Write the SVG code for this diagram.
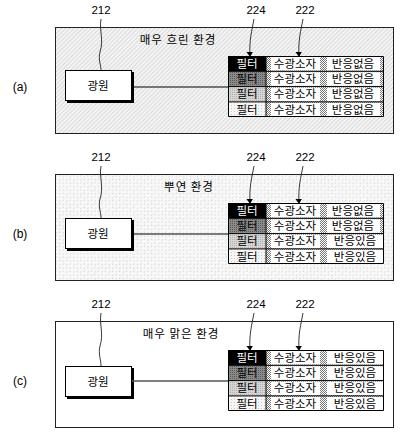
<svg xmlns="http://www.w3.org/2000/svg" width="402" height="436" viewBox="0 0 402 436">
<defs>
<pattern id="fogDense" width="3" height="3" patternUnits="userSpaceOnUse" patternTransform="rotate(45)">
<rect width="3" height="3" fill="#f4f4f4"/>
<line x1="0" y1="0" x2="0" y2="3" stroke="#a8a8a8" stroke-width="0.7"/>
</pattern>
<pattern id="fogLight" width="5" height="5" patternUnits="userSpaceOnUse" patternTransform="rotate(45)">
<rect width="5" height="5" fill="#f8f8f8"/>
<line x1="0" y1="0" x2="0" y2="2" stroke="#aaa" stroke-width="0.7"/>
<line x1="2.5" y1="2.5" x2="2.5" y2="4" stroke="#bbb" stroke-width="0.6"/>
</pattern>
<pattern id="check" width="2" height="2" patternUnits="userSpaceOnUse">
<rect width="2" height="2" fill="#fff"/>
<rect width="1" height="1" fill="#777"/>
<rect x="1" y="1" width="1" height="1" fill="#777"/>
</pattern>
<pattern id="dkStip" width="2" height="2" patternUnits="userSpaceOnUse">
<rect width="2" height="2" fill="#8a8a8a"/>
<rect width="1" height="1" fill="#5a5a5a"/>
</pattern>
<pattern id="ltStip" width="2" height="2" patternUnits="userSpaceOnUse">
<rect width="2" height="2" fill="#d6d6d6"/>
<rect width="1" height="1" fill="#b0b0b0"/>
</pattern>
<pattern id="wStip" width="3" height="3" patternUnits="userSpaceOnUse">
<rect width="3" height="3" fill="#f6f6f6"/>
<rect width="1" height="1" fill="#c8c8c8"/>
</pattern>
<marker id="arr" viewBox="0 0 6 8" refX="5" refY="4" markerWidth="5" markerHeight="7" orient="auto" markerUnits="userSpaceOnUse">
<path d="M0,0 L6,4 L0,8 z" fill="#000"/>
</marker>
</defs>
<style>
text{font-family:"Noto Sans CJK KR","Liberation Sans",sans-serif;font-size:11.5px;fill:#000;text-anchor:middle}
.num{font-family:"Liberation Sans",Arial,sans-serif;font-size:11.5px}
.lbl{font-family:"Liberation Sans",Arial,sans-serif;font-size:12px}
.env{letter-spacing:1px}
.frame{stroke:#222;stroke-width:1}
.src{fill:#fff;stroke:#000;stroke-width:1}
.grid{fill:none;stroke:#000;stroke-width:1}
.wc{fill:#fff}
.lead{fill:none;stroke:#222;stroke-width:0.9}
.conn{stroke:#000;stroke-width:1}
.wt{fill:#fff}
</style>

<!-- Panel (a) -->
<g id="panel-a">
<rect id="env-a" class="frame" x="55.5" y="27.5" width="338" height="106" fill="url(#fogDense)"/>
<text class="env" x="178" y="44">매우 흐린 환경</text>
<text class="lbl" x="20" y="91">(a)</text>
<text class="num" x="101" y="14">212</text>
<text class="num" x="256" y="14">224</text>
<text class="num" x="305" y="14">222</text>
<g id="leaders-a">
<path class="lead" d="M101,19 C99,30 104,40 100,52 C98,60 101,65 101,70"/>
<path class="lead" d="M254,19 C252,30 249,40 250,56" marker-end="url(#arr)"/>
<path class="lead" d="M303,19 C301,30 298,40 299,56" marker-end="url(#arr)"/>
</g>
<g id="source-a">
<rect x="67" y="72" width="67" height="31" fill="#000"/>
<rect class="src" x="65.5" y="70.5" width="66" height="30"/>
<text x="98" y="90">광원</text>
</g>
<g id="conn-a"><line class="conn" x1="132" y1="87" x2="228" y2="87"/></g>
<g id="table-a">
<rect x="228" y="56" width="156" height="61" fill="url(#check)"/>
<rect x="228" y="56" width="38" height="15.3" fill="#000"/>
<rect x="228" y="71.3" width="38" height="15.3" fill="url(#dkStip)"/>
<rect x="228" y="86.6" width="38" height="15.3" fill="url(#ltStip)"/>
<rect x="228" y="101.9" width="38" height="15.1" fill="url(#wStip)"/>
<g class="wc">
<rect x="271" y="57" width="49" height="13.5"/><rect x="271" y="72.3" width="49" height="13.5"/><rect x="271" y="87.6" width="49" height="13.5"/><rect x="271" y="102.9" width="49" height="13.5"/>
<rect x="327" y="57" width="53" height="13.5"/><rect x="327" y="72.3" width="53" height="13.5"/><rect x="327" y="87.6" width="53" height="13.5"/><rect x="327" y="102.9" width="53" height="13.5"/>
</g>
<path class="grid" d="M228.5,56.5 H383.5 V116.5 H228.5 Z M228.5,71.3 H383.5 M228.5,86.6 H383.5 M228.5,101.9 H383.5 M266,56.5 V116.5"/>
<text class="wt" x="247" y="68">필터</text><text x="247" y="83">필터</text><text x="247" y="98">필터</text><text x="247" y="114">필터</text>
<text x="295" y="68">수광소자</text><text x="295" y="83">수광소자</text><text x="295" y="98">수광소자</text><text x="295" y="114">수광소자</text>
<text x="353" y="68">반응없음</text><text x="353" y="83">반응없음</text><text x="353" y="98">반응없음</text><text x="353" y="114">반응없음</text>
</g>
</g>

<!-- Panel (b) -->
<g id="panel-b" transform="translate(0,147)">
<rect id="env-b" class="frame" x="55.5" y="27.5" width="338" height="106" fill="url(#fogLight)"/>
<text class="env" x="189" y="44">뿌연 환경</text>
<text class="lbl" x="20" y="91">(b)</text>
<text class="num" x="101" y="14">212</text>
<text class="num" x="256" y="14">224</text>
<text class="num" x="305" y="14">222</text>
<g id="leaders-b">
<path class="lead" d="M101,19 C99,30 104,40 100,52 C98,60 101,65 101,71"/>
<path class="lead" d="M254,19 C252,30 249,40 250,56" marker-end="url(#arr)"/>
<path class="lead" d="M303,19 C301,30 298,40 299,56" marker-end="url(#arr)"/>
</g>
<g id="source-b">
<rect x="67" y="73" width="67" height="31" fill="#000"/>
<rect class="src" x="65.5" y="71.5" width="66" height="30"/>
<text x="98" y="91">광원</text>
</g>
<g id="conn-b"><line class="conn" x1="132" y1="87" x2="228" y2="87"/></g>
<g id="table-b">
<rect x="228" y="56" width="156" height="61" fill="url(#check)"/>
<rect x="228" y="56" width="38" height="15.3" fill="#000"/>
<rect x="228" y="71.3" width="38" height="15.3" fill="url(#dkStip)"/>
<rect x="228" y="86.6" width="38" height="15.3" fill="url(#ltStip)"/>
<rect x="228" y="101.9" width="38" height="15.1" fill="url(#wStip)"/>
<g class="wc">
<rect x="271" y="57" width="49" height="13.5"/><rect x="271" y="72.3" width="49" height="13.5"/><rect x="271" y="87.6" width="49" height="13.5"/><rect x="271" y="102.9" width="49" height="13.5"/>
<rect x="327" y="57" width="53" height="13.5"/><rect x="327" y="72.3" width="53" height="13.5"/><rect x="327" y="87.6" width="57" height="13.5"/><rect x="327" y="102.9" width="57" height="13.5"/>
</g>
<path class="grid" d="M228.5,56.5 H383.5 V116.5 H228.5 Z M228.5,71.3 H383.5 M228.5,86.6 H383.5 M228.5,101.9 H383.5 M266,56.5 V116.5"/>
<text class="wt" x="247" y="68">필터</text><text x="247" y="83">필터</text><text x="247" y="98">필터</text><text x="247" y="114">필터</text>
<text x="295" y="68">수광소자</text><text x="295" y="83">수광소자</text><text x="295" y="98">수광소자</text><text x="295" y="114">수광소자</text>
<text x="353" y="68">반응없음</text><text x="353" y="83">반응없음</text><text x="355" y="98">반응있음</text><text x="355" y="114">반응있음</text>
</g>
</g>

<!-- Panel (c) -->
<g id="panel-c" transform="translate(0,294)">
<rect id="env-c" class="frame" x="55.5" y="27.5" width="338" height="106" fill="#fff"/>
<text class="env" x="181" y="44">매우 맑은 환경</text>
<text class="lbl" x="20" y="91">(c)</text>
<text class="num" x="101" y="14">212</text>
<text class="num" x="256" y="14">224</text>
<text class="num" x="305" y="14">222</text>
<g id="leaders-c">
<path class="lead" d="M101,19 C99,30 104,40 100,52 C98,60 101,65 101,72"/>
<path class="lead" d="M254,19 C252,30 249,40 250,56" marker-end="url(#arr)"/>
<path class="lead" d="M303,19 C301,30 298,40 299,56" marker-end="url(#arr)"/>
</g>
<g id="source-c">
<rect x="67" y="74" width="67" height="31" fill="#000"/>
<rect class="src" x="65.5" y="72.5" width="66" height="30"/>
<text x="98" y="92">광원</text>
</g>
<g id="conn-c"><line x1="132" y1="87" x2="228" y2="87" stroke="#555" stroke-width="1.3"/></g>
<g id="table-c">
<rect x="228" y="56" width="156" height="61" fill="url(#check)"/>
<rect x="228" y="56" width="38" height="15.3" fill="#000"/>
<rect x="228" y="71.3" width="38" height="15.3" fill="url(#dkStip)"/>
<rect x="228" y="86.6" width="38" height="15.3" fill="url(#ltStip)"/>
<rect x="228" y="101.9" width="38" height="15.1" fill="url(#wStip)"/>
<g class="wc">
<rect x="271" y="57" width="49" height="13.5"/><rect x="271" y="72.3" width="49" height="13.5"/><rect x="271" y="87.6" width="49" height="13.5"/><rect x="271" y="102.9" width="49" height="13.5"/>
<rect x="327" y="57" width="57" height="13.5"/><rect x="327" y="72.3" width="57" height="13.5"/><rect x="327" y="87.6" width="57" height="13.5"/><rect x="327" y="102.9" width="57" height="13.5"/>
</g>
<path class="grid" d="M228.5,56.5 H383.5 V116.5 H228.5 Z M228.5,71.3 H383.5 M228.5,86.6 H383.5 M228.5,101.9 H383.5 M266,56.5 V116.5"/>
<text class="wt" x="247" y="68">필터</text><text x="247" y="83">필터</text><text x="247" y="98">필터</text><text x="247" y="114">필터</text>
<text x="295" y="68">수광소자</text><text x="295" y="83">수광소자</text><text x="295" y="98">수광소자</text><text x="295" y="114">수광소자</text>
<text x="355" y="68">반응있음</text><text x="355" y="83">반응있음</text><text x="355" y="98">반응있음</text><text x="355" y="114">반응있음</text>
</g>
</g>
</svg>
